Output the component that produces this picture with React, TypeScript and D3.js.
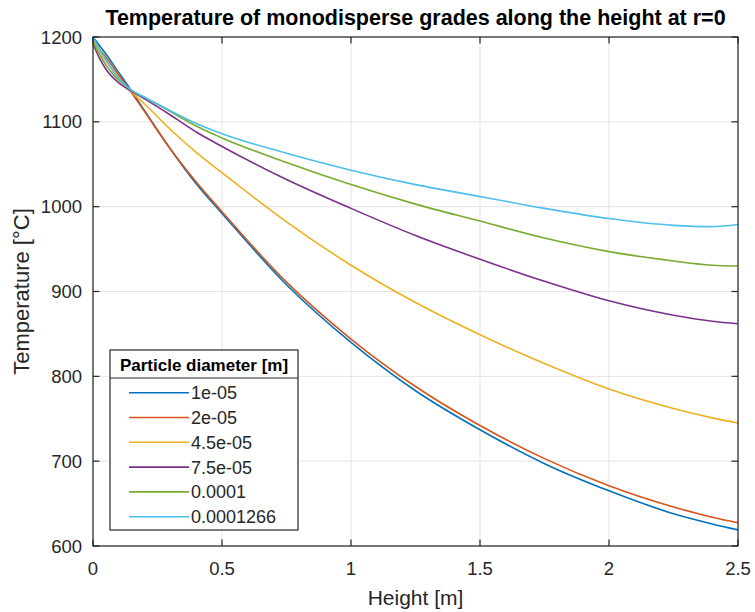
import React from "react";
import * as d3 from "d3";

const heights = [0, 0.025, 0.05, 0.1, 0.15, 0.2, 0.3, 0.4, 0.5, 0.75, 1.0, 1.25, 1.5, 1.75, 2.0, 2.25, 2.4, 2.5];

const s1e05 = [1200, 1190, 1180, 1158, 1136, 1113, 1068, 1027, 992, 908, 840, 783, 737, 697, 665, 638, 626, 619];
const s2e05 = [1196, 1186, 1176, 1155, 1134, 1112, 1068, 1029, 994, 911, 844, 788, 742, 703, 671, 646, 634, 627.5];
const s45e05 = [1196, 1184, 1172, 1152, 1135, 1121, 1091, 1064, 1040, 982, 931, 887, 849, 815, 785, 762, 751, 745];
const s75e05 = [1192, 1175, 1162, 1146, 1136, 1127, 1108, 1088, 1071, 1032, 998, 966, 938, 912, 889, 872, 865, 862];
const s1e04 = [1194, 1180, 1167, 1149, 1137, 1129, 1112, 1095, 1081, 1052, 1026, 1003, 983, 963, 947, 936, 931, 930];
const s1266e04 = [1200, 1186, 1173, 1151, 1137, 1129, 1113, 1098, 1086, 1063, 1043, 1026, 1012, 998, 986, 978, 976.5, 979];

const seriesNames = ["1e-05", "2e-05", "4.5e-05", "7.5e-05", "0.0001", "0.0001266"];
const seriesValues = [s1e05, s2e05, s45e05, s75e05, s1e04, s1266e04];
const colors = ["#0072BD", "#D95319", "#EDB120", "#7E2F8E", "#77AC30", "#4DBEEE"];

const xTicks = [0, 0.5, 1, 1.5, 2, 2.5];
const xTickLabels = ["0", "0.5", "1", "1.5", "2", "2.5"];
const yTicks = [600, 700, 800, 900, 1000, 1100, 1200];

const W = 755;
const H = 612;
const left = 93;
const right = 738;
const top = 37;
const bottom = 546;
const font = "'Liberation Sans', Arial, Helvetica, sans-serif";
const axisColor = "#262626";
const gridColor = "#e3e3e3";

export default function App() {
  const x = d3.scaleLinear().domain([0, 2.5]).range([left, right]);
  const y = d3.scaleLinear().domain([600, 1200]).range([bottom, top]);
  const line = d3
    .line<[number, number]>()
    .x((d) => x(d[0]))
    .y((d) => y(d[1]))
    .curve(d3.curveMonotoneX);

  const tickLen = 6.5;
  const legX = 110;
  const legY = 350;
  const legW = 188;
  const legH = 180;
  const legTitleH = 28;
  const entryStart = 392.7;
  const entryStep = 24.8;

  return (
    <svg
      width={W}
      height={H}
      style={{ position: "absolute", left: 0, top: 0, background: "#fff" }}
      fontFamily={font}
    >
      <rect x={0} y={0} width={W} height={H} fill="#fff" />
      {xTicks.map((t, i) => (
        <line key={"gx" + i} x1={x(t)} x2={x(t)} y1={top} y2={bottom} stroke={gridColor} strokeWidth={1} />
      ))}
      {yTicks.map((t, i) => (
        <line key={"gy" + i} x1={left} x2={right} y1={y(t)} y2={y(t)} stroke={gridColor} strokeWidth={1} />
      ))}
      {seriesValues.map((vals, i) => (
        <path
          key={"s" + i}
          d={line(heights.map((h, j) => [h, vals[j]] as [number, number])) || ""}
          fill="none"
          stroke={colors[i]}
          strokeWidth={1.6}
        />
      ))}
      <rect x={left} y={top} width={right - left} height={bottom - top} fill="none" stroke={axisColor} strokeWidth={1.2} />
      {xTicks.map((t, i) => (
        <g key={"tx" + i}>
          <line x1={x(t)} x2={x(t)} y1={bottom} y2={bottom - tickLen} stroke={axisColor} strokeWidth={1.2} />
          <line x1={x(t)} x2={x(t)} y1={top} y2={top + tickLen} stroke={axisColor} strokeWidth={1.2} />
          <text x={x(t)} y={575} textAnchor="middle" fontSize={18.5} fill={axisColor}>
            {xTickLabels[i]}
          </text>
        </g>
      ))}
      {yTicks.map((t, i) => (
        <g key={"ty" + i}>
          <line x1={left} x2={left + tickLen} y1={y(t)} y2={y(t)} stroke={axisColor} strokeWidth={1.2} />
          <line x1={right} x2={right - tickLen} y1={y(t)} y2={y(t)} stroke={axisColor} strokeWidth={1.2} />
          <text x={82} y={y(t) + 6.6} textAnchor="end" fontSize={18.5} fill={axisColor}>
            {t}
          </text>
        </g>
      ))}
      <text x={(left + right) / 2} y={605} textAnchor="middle" fontSize={21} fill={axisColor}>
        Height [m]
      </text>
      <text
        transform={`translate(29, ${(top + bottom) / 2}) rotate(-90)`}
        textAnchor="middle"
        fontSize={22}
        fill={axisColor}
      >
        Temperature [°C]
      </text>
      <text x={(left + right) / 2} y={25} textAnchor="middle" fontSize={21.5} fontWeight="bold" fill="#000">
        Temperature of monodisperse grades along the height at r=0
      </text>
      <rect x={legX} y={legY} width={legW} height={legH} fill="#fff" stroke={axisColor} strokeWidth={1.2} />
      <line x1={legX} x2={legX + legW} y1={legY + legTitleH} y2={legY + legTitleH} stroke={axisColor} strokeWidth={1.2} />
      <text x={legX + legW / 2} y={legY + 20.5} textAnchor="middle" fontSize={17} fontWeight="bold" fill="#000">
        Particle diameter [m]
      </text>
      {seriesNames.map((n, i) => {
        const ey = entryStart + i * entryStep;
        return (
          <g key={"l" + i}>
            <line x1={129} x2={189} y1={ey} y2={ey} stroke={colors[i]} strokeWidth={1.6} />
            <text x={191} y={ey + 6.5} fontSize={18} fill={axisColor}>
              {n}
            </text>
          </g>
        );
      })}
    </svg>
  );
}
